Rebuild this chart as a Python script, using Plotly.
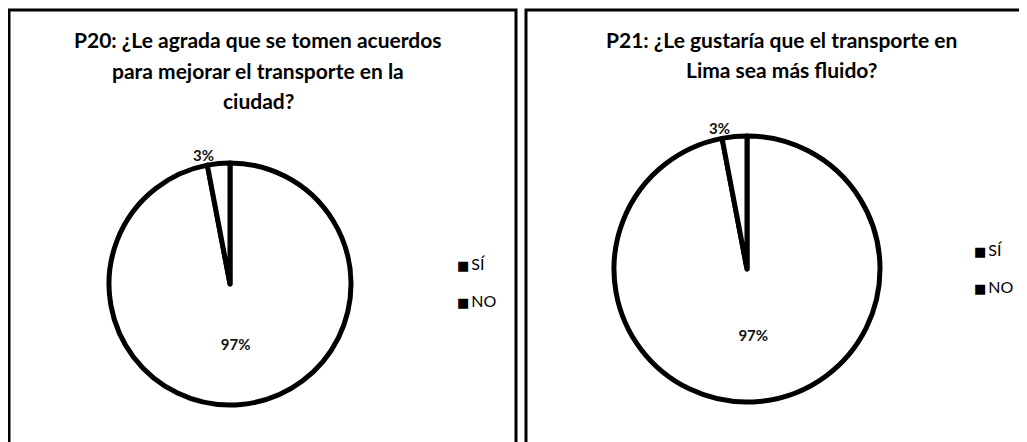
import plotly.graph_objects as go

W, H = 1027, 442
OFFSET = 8  # the page body adds an 8px margin around the figure

categories = ["SÍ", "NO"]
p20_values = [3, 97]
p21_values = [3, 97]

p20_title = ["P20: ¿Le agrada que se tomen acuerdos",
             "para mejorar el transporte en la",
             "ciudad?"]
p21_title = ["P21: ¿Le gustaría que el transporte en",
             "Lima sea más fluido?"]


def px_x(x):
    return (x - OFFSET) / W


def px_y(y):
    return 1 - (y - OFFSET) / H


FONT = "Lato"

fig = go.Figure()

pies = [
    (p20_values, (109, 351), (163, 405)),
    (p21_values, (614, 880), (135, 403)),
]
for values, (x0, x1), (y0, y1) in pies:
    # drawn clockwise from 12 o'clock with NO first, so SÍ ends at the top (left of it)
    fig.add_trace(go.Pie(
        labels=categories[::-1],
        values=values[::-1],
        sort=False,
        direction="clockwise",
        rotation=0,
        marker=dict(colors=["#ffffff", "#ffffff"], line=dict(color="#000000", width=5)),
        texttemplate="<b>%{percent:.0%}</b>",
        textposition=["inside", "outside"],
        insidetextorientation="horizontal",
        textfont=dict(family=FONT, size=15, color="#111111"),
        domain=dict(x=[px_x(x0), px_x(x1)], y=[px_y(y1), px_y(y0)]),
        showlegend=False,
        hoverinfo="label+percent",
    ))

# legend entries: small black squares as in the scanned original
for legend_id in ["legend", "legend2"]:
    for i, cat in enumerate(categories):
        fig.add_trace(go.Scatter(
            x=[None], y=[None],
            mode="markers",
            name=f"<span style='font-family:DejaVu Sans;font-size:13px'>■</span>\u2009{cat}",
            legendgroup=f"{legend_id}{i}",
            marker=dict(symbol="square", size=7, color="rgba(0,0,0,0)"),
            legend=legend_id,
        ))

annotations = []
for i, line in enumerate(p20_title):
    annotations.append(dict(
        text=f"<b>{line}</b>", x=px_x(258), y=px_y([40, 71, 100][i]),
        xref="paper", yref="paper", showarrow=False,
        xanchor="center", yanchor="middle",
        font=dict(family=FONT, size=21, color="#000000"),
    ))
for i, line in enumerate(p21_title):
    annotations.append(dict(
        text=f"<b>{line}</b>", x=px_x(781), y=px_y([40, 70][i]),
        xref="paper", yref="paper", showarrow=False,
        xanchor="center", yanchor="middle",
        font=dict(family=FONT, size=21, color="#000000"),
    ))

shapes = [
    dict(type="rect", xref="paper", yref="paper",
         x0=px_x(9), x1=px_x(516), y0=-0.1, y1=px_y(10),
         line=dict(color="#000000", width=3)),
    dict(type="rect", xref="paper", yref="paper",
         x0=px_x(526), x1=px_x(1045), y0=-0.1, y1=px_y(10),
         line=dict(color="#000000", width=3)),
]

legend_style = dict(
    xanchor="left", yanchor="top",
    bgcolor="rgba(0,0,0,0)",
    font=dict(family=FONT, size=16, color="#000000"),
    traceorder="grouped",
    tracegroupgap=13,
    itemwidth=30,
)

fig.update_layout(
    width=W, height=H,
    margin=dict(l=0, r=0, t=0, b=0),
    paper_bgcolor="#ffffff",
    plot_bgcolor="#ffffff",
    xaxis=dict(visible=False),
    yaxis=dict(visible=False),
    annotations=annotations,
    shapes=shapes,
    legend=dict(x=px_x(417), y=px_y(247), **legend_style),
    legend2=dict(x=px_x(934), y=px_y(233), **legend_style),
)

fig.write_html("out.html")
